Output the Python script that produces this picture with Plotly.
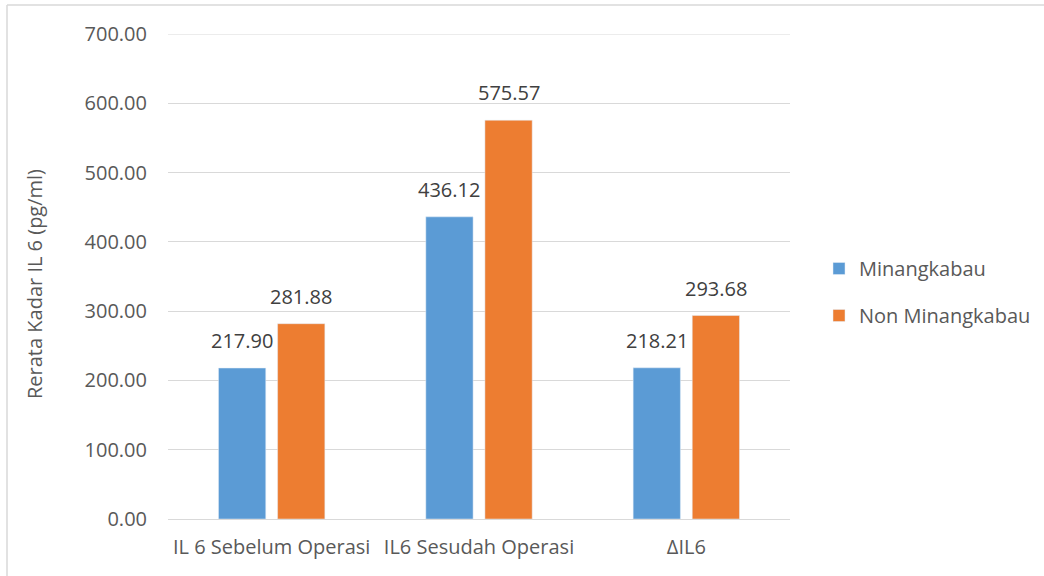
import plotly.graph_objects as go

categories = ["IL 6 Sebelum Operasi", "IL6 Sesudah Operasi", "ΔIL6"]
minangkabau = [217.90, 436.12, 218.21]
non_minangkabau = [281.88, 575.57, 293.68]
series_names = ["Minangkabau", "Non Minangkabau"]
tick_vals = [0, 100, 200, 300, 400, 500, 600, 700]

FONT = "Open Sans"
FS = 20
GREY = "#595959"
L, R, T, B = 168, 0, 34, 57
W, H = 1044, 576
PLOT_RIGHT = 790
paper_w, ph = W - L - R, H - T - B
plot_w = PLOT_RIGHT - L
BARGAP = 0.43
slot = (1 - BARGAP) * plot_w / len(categories) / 2


def px_x(p):
    return (p - L) / paper_w


def px_y(p):
    return (H - B - p) / ph


fig = go.Figure()
annotations = []
for i, (name, vals, color) in enumerate([(series_names[0], minangkabau, "#5b9bd5"),
                                         (series_names[1], non_minangkabau, "#ed7d31")]):
    fig.add_trace(go.Bar(
        x=categories, y=vals, name=name, marker_color=color, legendgroup=name,
        cliponaxis=False,
    ))
    for c, v in zip(categories, vals):
        annotations.append(dict(x=c, y=v, xref="x", yref="y", text=f"{v:.2f}",
                                showarrow=False, yanchor="bottom", xanchor="center",
                                xshift=(i - 0.5) * slot, yshift=12,
                                font=dict(family=FONT, size=FS, color="#404040")))

annotations.append(dict(text="Rerata Kadar IL 6 (pg/ml)", textangle=-90,
                        xref="paper", yref="paper", x=px_x(34), y=px_y(284),
                        xanchor="center", yanchor="middle", showarrow=False,
                        font=dict(family=FONT, size=FS, color=GREY)))

fig.update_layout(
    width=W, height=H,
    margin=dict(l=L, r=R, t=T, b=B),
    paper_bgcolor="white", plot_bgcolor="white",
    barmode="group", bargap=BARGAP, bargroupgap=0.2,
    font=dict(family=FONT, color=GREY, size=FS),
    legend=dict(x=px_x(819), y=px_y(292), xanchor="left", yanchor="middle",
                font=dict(family=FONT, size=FS, color=GREY), borderwidth=0,
                itemwidth=30, tracegroupgap=18, bgcolor="rgba(0,0,0,0)",
                entrywidth=150, entrywidthmode="pixels"),
    xaxis=dict(domain=[0, plot_w / paper_w], showgrid=False, showline=False, ticks="",
               ticklabelstandoff=14, tickfont=dict(family=FONT, size=FS, color=GREY)),
    yaxis=dict(range=[0, 700], tickvals=tick_vals, tickformat=".2f",
               showgrid=True, gridcolor="#d9d9d9", gridwidth=1,
               zeroline=True, zerolinecolor="#d9d9d9", zerolinewidth=1,
               showline=False, ticks="", ticklabelstandoff=20,
               tickfont=dict(family=FONT, size=FS, color=GREY)),
    annotations=annotations,
    shapes=[
        dict(type="line", xref="x domain", yref="y", x0=0, x1=1,
             y0=tick_vals[-1], y1=tick_vals[-1], line=dict(color="#d9d9d9", width=1)),
        dict(type="line", xref="paper", yref="paper",
             x0=px_x(7), x1=px_x(7), y0=px_y(5), y1=px_y(590),
             line=dict(color="#d9d9d9", width=1.5)),
        dict(type="line", xref="paper", yref="paper",
             x0=px_x(7), x1=px_x(1060), y0=px_y(5), y1=px_y(5),
             line=dict(color="#d9d9d9", width=1.5)),
    ],
)
fig.write_html("out.html")
